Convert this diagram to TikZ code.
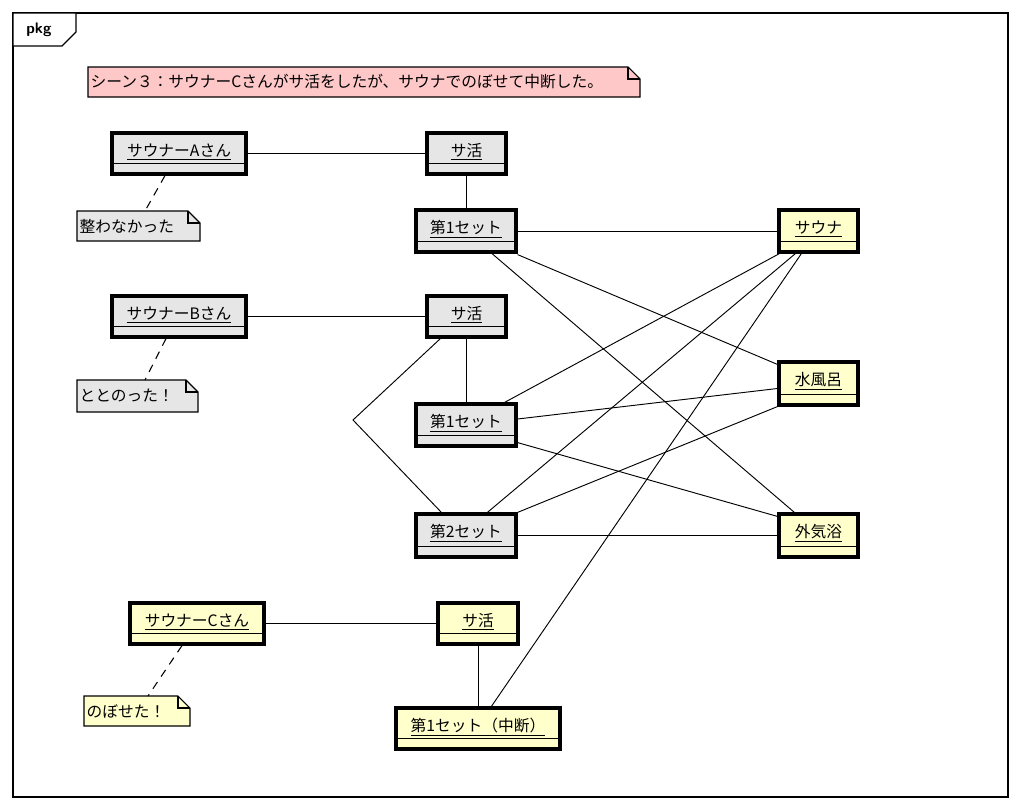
\documentclass[tikz,border=0pt]{standalone}
\usepackage{fontspec}
\setmainfont{Noto Sans CJK JP}
\usetikzlibrary{calc}
\definecolor{gfill}{HTML}{E6E6E6}
\definecolor{yfill}{HTML}{FFFFCC}
\definecolor{pfill}{HTML}{FFC8C8}
\tikzset{
  conn/.style={line width=0.7pt},
  objbox/.style={draw, line width=2.4pt, rectangle, inner sep=0pt},
  lbl/.style={font=\fontsize{11.8}{13}\selectfont, inner sep=1pt},
  notedash/.style={line width=0.8pt, dash pattern=on 6pt off 5pt},
}
% \obj{name}{x1}{y1}{x2}{y2}{text}{fill}
\newcommand{\obj}[7]{%
  \node[objbox, fill=#7, minimum width={(#4-#2)*0.75pt}, minimum height={(#5-#3)*0.75pt}] (#1) at ({(#2+#4)/2},{(#3+#5)/2}) {};
  \node[lbl] (#1t) at ({(#2+#4)/2},{#3+19}) {\underline{#6}};
  \draw[line width=0.7pt] ({#2},{#5-11}) -- ({#4},{#5-11});
}
% \notebox{name}{x1}{y1}{x2}{y2}{text}{fill}
\newcommand{\notebox}[7]{%
  \coordinate (#1) at ({(#2+#4)/2},{(#3+#5)/2});
  \draw[line width=0.8pt, fill=#7] (#2,#3) -- ({#4-12},#3) -- (#4,{#3+12}) -- (#4,#5) -- (#2,#5) -- cycle;
  \draw[line width=0.8pt] ({#4-12},#3) -- ({#4-12},{#3+12}) -- (#4,{#3+12});
  \node[lbl, anchor=west] (#1t) at ({#2+1},{(#3+#5)/2}) {#6};
}
\begin{document}
\begin{tikzpicture}[x=0.75pt,y=-0.75pt]
\useasboundingbox (0,0) rectangle (1021,810);
\fill[white] (0,0) rectangle (1021,810);
% frame
\draw[line width=0.9pt] (13,13) rectangle (1008,797);
\draw[line width=0.9pt, fill=white] (13,13) -- (76,13) -- (76,32) -- (62,46) -- (13,46) -- cycle;
\node[font=\sffamily\bfseries\fontsize{11.5}{13}\selectfont, anchor=west, inner sep=0pt] (pkg) at (26,30) {pkg};
% title note
\notebox{title}{88}{67}{640}{97}{シーン３：サウナーCさんがサ活をしたが、サウナでのぼせて中断した。}{pfill}
% objects
\obj{A}{112}{133}{246}{174}{サウナーAさん}{gfill}
\obj{sk1}{427}{133}{506}{174}{サ活}{gfill}
\obj{s1a}{416}{210}{516}{252}{第1セット}{gfill}
\obj{sauna}{779}{210}{858}{252}{サウナ}{yfill}
\obj{B}{112}{296}{246}{337}{サウナーBさん}{gfill}
\obj{sk2}{427}{296}{506}{337}{サ活}{gfill}
\obj{s1b}{416}{404}{516}{446}{第1セット}{gfill}
\obj{mizu}{779}{362}{858}{405}{水風呂}{yfill}
\obj{s2b}{416}{514}{516}{557}{第2セット}{gfill}
\obj{gai}{779}{514}{858}{557}{外気浴}{yfill}
\obj{C}{130}{603}{264}{644}{サウナーCさん}{yfill}
\obj{sk3}{438}{603}{518}{644}{サ活}{yfill}
\obj{s1c}{396}{708}{560}{749}{第1セット（中断）}{yfill}
% notes
\notebox{nA}{77}{211}{200}{241}{整わなかった}{gfill}
\notebox{nB}{77}{380}{198}{412}{ととのった！}{gfill}
\notebox{nC}{84}{696}{190}{726}{のぼせた！}{yfill}
\coordinate (nAtop) at (145,211);
\coordinate (nBtop) at (145,380);
\coordinate (nCtop) at (148,696);
\draw[notedash] ($(A.south)+(-14,0)$) -- (nAtop);
\draw[notedash] ($(B.south)+(-13,0)$) -- (nBtop);
\draw[notedash] ($(C.south)+(-15,0)$) -- (nCtop);
% connectors
\draw[conn] (A) -- (sk1);
\draw[conn] (sk1.south) -- (sk1.south |- s1a.north);
\draw[conn] (s1a) -- (s1a -| sauna.west);
\draw[conn] ($(s1a.south)+(26,0)$) -- ($(gai.north west)+(17,0)$);
\draw[conn] ($(s1a.south east)+(0,1)$) -- ($(mizu.north west)+(0,4)$);
\draw[conn] (B) -- (sk2);
\draw[conn] (sk2.south) -- (sk2.south |- s1b.north);
\coordinate (bend) at (353,420);
\draw[conn] ($(sk2.south west)+(15,0)$) -- (bend) -- ($(s2b.north west)+(27,0)$);
\draw[conn] ($(s1b.north east)+(-13,0)$) -- ($(sauna.south west)+(2,0)$);
\draw[conn] ($(s1b.east)+(0,-6)$) -- ($(mizu.west)+(0,5)$);
\draw[conn] ($(s1b.south east)+(0,-5)$) -- ($(gai.north west)+(0,4)$);
\draw[conn] ($(s2b.north west)+(73,0)$) -- ($(sauna.south west)+(18,0)$);
\draw[conn] ($(s2b.north east)$) -- ($(mizu.south west)$);
\draw[conn] (s2b) -- (gai);
\draw[conn] (C) -- (sk3);
\draw[conn] (sk3.south) -- (sk3.south |- s1c.north);
\draw[conn] ($(s1c.north west)+(97,0)$) -- ($(sauna.south west)+(24,0)$);
\end{tikzpicture}
\end{document}
